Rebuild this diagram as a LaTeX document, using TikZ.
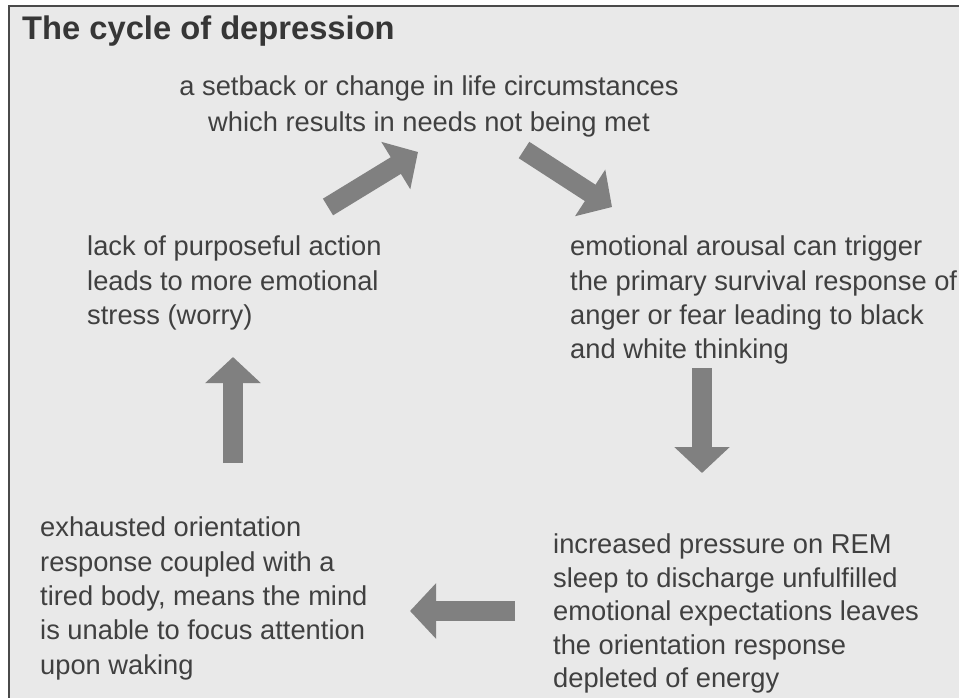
\documentclass[tikz,border=0pt]{standalone}
\usepackage{fontspec}
\setmainfont{Liberation Sans}
\usetikzlibrary{arrows.meta}

\definecolor{panelgray}{HTML}{E9E9E9}
\definecolor{framegray}{HTML}{4A4A4A}
\definecolor{arrowgray}{HTML}{808080}
\definecolor{textgray}{HTML}{404040}

\tikzset{
	stage/.style={anchor=north west, inner sep=0pt, align=left, text=textgray, font=\fontsize{27.3}{34.3}\selectfont},
	blockarrow/.style={arrowgray, line width=19.5pt, -{Triangle[length=26pt, width=54pt]}}
}

\begin{document}
\begin{tikzpicture}[x=1pt, y=-1pt]
				
				\useasboundingbox (0,0) rectangle (959,698);
				
				\fill[panelgray] (9,6) rectangle (959,698);
				
				\draw[framegray, line width=2pt] (9,698) -- (9,6) -- (959,6);
				
				\node[anchor=base west, inner sep=0pt, text=textgray!85!black, font=\fontsize{32.7}{36}\selectfont\bfseries] (title) at (22,40) {The cycle of depression};
				
				\node[stage, anchor=north, align=center, font=\fontsize{27.3}{36}\selectfont] (setback) at (429,76) {a setback or change in life circumstances\\which results in needs not being met};
				
				\node[stage] (arousal) at (570,236) {emotional arousal can trigger\\the primary survival response of\\anger or fear leading to black\\and white thinking};
				
				\node[stage, font=\fontsize{27.3}{33.5}\selectfont] (pressure) at (553,534) {increased pressure on REM\\sleep to discharge unfulfilled\\emotional expectations leaves\\the orientation response\\depleted of energy};
				
				\node[stage] (exhausted) at (40,517) {exhausted orientation\\response coupled with a\\tired body, means the mind\\is unable to focus attention\\upon waking};
				
				\node[stage] (inaction) at (87,236) {lack of purposeful action\\leads to more emotional\\stress (worry)};
				
				\coordinate (inaction-out) at (328,207);
				\coordinate (setback-in) at (418,152);
				\coordinate (setback-out) at (524,150);
				\coordinate (arousal-in) at (612,207);
				\coordinate (arousal-out) at (702,368);
				\coordinate (pressure-in) at (702,473);
				\coordinate (pressure-out) at (515,611);
				\coordinate (exhausted-in) at (410,611);
				\coordinate (exhausted-out) at (233,463);
				\coordinate (inaction-in) at (233,357);
				
				\draw[blockarrow] (inaction-out) -- (setback-in);
				
				\draw[blockarrow] (setback-out) -- (arousal-in);
				
				\draw[blockarrow] (arousal-out) -- (pressure-in);
				
				\draw[blockarrow] (pressure-out) -- (exhausted-in);
				
				\draw[blockarrow] (exhausted-out) -- (inaction-in);
				
\end{tikzpicture}
\end{document}
